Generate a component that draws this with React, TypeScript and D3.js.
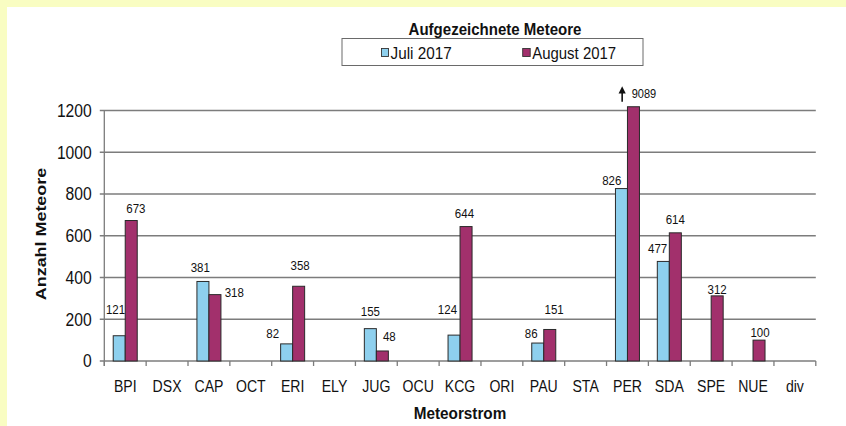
import React from "react";
import * as d3 from "d3";

// ---- data ----
const categories = ["BPI", "DSX", "CAP", "OCT", "ERI", "ELY", "JUG", "OCU", "KCG", "ORI", "PAU", "STA", "PER", "SDA", "SPE", "NUE", "div"];
const seriesNames = ["Juli 2017", "August 2017"];
const juli: (number | null)[] = [121, null, 381, null, 82, null, 155, null, 124, null, 86, null, 826, 477, null, null, null];
const august: (number | null)[] = [673, null, 318, null, 358, null, 48, null, 644, null, 151, null, 9089, 614, 312, 100, null];
const yTicks = [0, 200, 400, 600, 800, 1000, 1200];
const title = "Aufgezeichnete Meteore";
const xTitle = "Meteorstrom";
const yTitle = "Anzahl Meteore";

// ---- layout / style ----
const W = 846, H = 426;
const plotLeft = 104.3, plotRight = 815.8, plotTop = 110.5, plotBottom = 361;
const BAR_CAP = 1218; // axis break for off-scale bars
const colors = ["#8ED0EE", "#A2306C"];
const FONT = "'Liberation Sans', Arial, Helvetica, sans-serif";

// label nudges (dx, height of label centre above bar top)
const labelNudge: Record<string, [number, number]> = {
  "0:BPI": [-3.7, 26], "1:BPI": [4.6, 12],
  "0:CAP": [-2.7, 14], "1:CAP": [19.3, 1.7],
  "0:ERI": [-14, 10], "1:ERI": [1.5, 21],
  "0:JUG": [0, 17], "1:JUG": [7, 14],
  "0:KCG": [-6.6, 26], "1:KCG": [-1.6, 13],
  "0:PAU": [-6.5, 10], "1:PAU": [4.4, 20],
  "0:PER": [-9.7, 8.5],
  "0:SDA": [-5.7, 12.5], "1:SDA": [0, 13.5],
  "1:SPE": [0, 6], "1:NUE": [1, 8],
};

function SText(props: { x: number; y: number; sx?: number; sy?: number; size: number; bold?: boolean; anchor?: string; children: React.ReactNode; rotate?: number; fill?: string }) {
  const { x, y, sx = 1, sy = 1, size, bold, anchor = "middle", children, rotate = 0, fill = "#111" } = props;
  return (
    <text
      transform={`translate(${x},${y}) rotate(${rotate}) scale(${sx},${sy})`}
      fontFamily={FONT}
      fontSize={size}
      fontWeight={bold ? "bold" : "normal"}
      textAnchor={anchor}
      fill={fill}
    >
      {children}
    </text>
  );
}

export default function App() {
  const x = d3.scaleBand<string>().domain(categories).range([plotLeft, plotRight]).paddingInner(0).paddingOuter(0);
  const bw = x.bandwidth();
  const xs = d3.scaleBand<string>().domain(seriesNames).range([0, bw]).paddingInner(0).paddingOuter(0.743);
  const y = d3.scaleLinear().domain([0, 1200]).range([plotBottom, plotTop]);
  const seriesData = [juli, august];

  const bars: React.ReactNode[] = [];
  const labels: React.ReactNode[] = [];
  seriesData.forEach((vals, si) => {
    vals.forEach((v, ci) => {
      if (v == null) return;
      const cat = categories[ci];
      const bx = (x(cat) as number) + (xs(seriesNames[si]) as number);
      const top = y(Math.min(v, BAR_CAP));
      bars.push(
        <rect key={`b${si}${ci}`} x={bx} y={top} width={xs.bandwidth()} height={plotBottom - top}
          fill={colors[si]} stroke="#2a2a2a" strokeWidth={1} />
      );
      const nudge = labelNudge[`${si}:${cat}`];
      if (v > BAR_CAP) {
        // off-scale: arrow + value
        const ax = (x(cat) as number) + (xs(seriesNames[0]) as number) + xs.bandwidth() / 2 + 0.7;
        labels.push(
          <g key={`a${si}${ci}`}>
            <line x1={ax} x2={ax} y1={101.7} y2={92} stroke="#111" strokeWidth={1.6} />
            <path d={`M${ax - 3.6},${93.5} L${ax},${86.2} L${ax + 3.6},${93.5} Z`} fill="#111" />
            <SText x={bx + xs.bandwidth() / 2 + 10.5} y={94 + 12 * 0.358} size={12} sx={0.92}>{v}</SText>
          </g>
        );
      } else if (nudge) {
        const cx = bx + xs.bandwidth() / 2 + nudge[0];
        const cy = top - nudge[1];
        labels.push(
          <SText key={`l${si}${ci}`} x={cx} y={cy + 12.5 * 0.358} size={12.5} sx={0.92}>{v}</SText>
        );
      }
    });
  });

  const boundaries = [...categories.map((c) => x(c) as number), plotRight];

  return (
    <div style={{ position: "fixed", left: 0, top: 0 }}>
      <svg width={W} height={H} viewBox={`0 0 ${W} ${H}`} style={{ display: "block" }}>
        <rect x={0} y={0} width={W} height={H} fill="#F9FDC2" />
        <rect x={7} y={7} width={W - 7} height={H - 7} fill="#ffffff" />

        {/* title */}
        <SText x={495} y={35} size={16} bold sx={0.94}>{title}</SText>

        {/* legend */}
        <rect x={342} y={38.5} width={301} height={27} fill="#fff" stroke="#6a6a6a" strokeWidth={1} />
        <rect x={381.5} y={48.5} width={7} height={8} fill={colors[0]} stroke="#333" strokeWidth={0.9} />
        <SText x={390.5} y={59.3} size={17} sx={0.9} anchor="start">{seriesNames[0]}</SText>
        <rect x={522.7} y={48.5} width={7.5} height={8} fill={colors[1]} stroke="#333" strokeWidth={0.9} />
        <SText x={532.2} y={59.3} size={17} sx={0.88} anchor="start">{seriesNames[1]}</SText>

        {/* gridlines */}
        {yTicks.map((t) => (
          <g key={`g${t}`}>
            <line x1={plotLeft - 4.5} x2={plotRight} y1={y(t)} y2={y(t)} stroke="#7c7c7c" strokeWidth={1.3} />
            <SText x={91.7} y={y(t) + 18 * 0.358} size={18} sx={0.87} anchor="end">{t}</SText>
          </g>
        ))}
        {/* y axis */}
        <line x1={plotLeft} x2={plotLeft} y1={plotTop} y2={plotBottom + 5} stroke="#7c7c7c" strokeWidth={1.3} />
        {/* x ticks */}
        {boundaries.map((b, i) => (
          <line key={`t${i}`} x1={b} x2={b} y1={plotBottom} y2={plotBottom + 5} stroke="#7c7c7c" strokeWidth={1.3} />
        ))}

        {bars}
        {labels}

        {/* category labels */}
        {categories.map((c) => (
          <SText key={`c${c}`} x={(x(c) as number) + bw / 2} y={386 + 16 * 0.358} size={16} sx={0.88}>{c}</SText>
        ))}

        {/* axis titles */}
        <SText x={460} y={413 + 17 * 0.358} size={17} bold sx={0.9}>{xTitle}</SText>
        <SText x={41.5 + 16 * 0.358 * 0.87} y={234} size={16} bold rotate={-90} sx={1.12} sy={0.87}>{yTitle}</SText>
      </svg>
    </div>
  );
}
